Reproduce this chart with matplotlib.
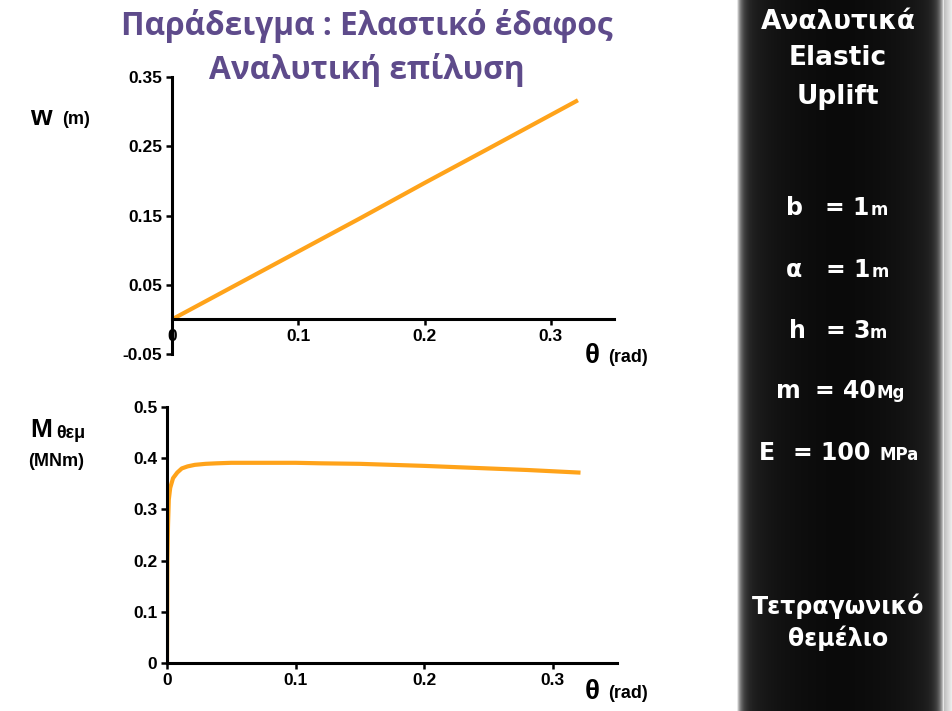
import numpy as np
import matplotlib
matplotlib.use("Agg")
import matplotlib.pyplot as plt
from matplotlib import font_manager

# Data
theta_w = [0.0, 0.05, 0.10, 0.15, 0.20, 0.25, 0.32]
w_vals = [0.0, 0.049, 0.098, 0.147, 0.197, 0.246, 0.315]

theta_m = [0.0, 0.0003, 0.0008, 0.0014, 0.0025, 0.0047, 0.008, 0.0115, 0.016,
           0.0216, 0.03, 0.0385, 0.05, 0.08, 0.10, 0.12, 0.15, 0.20, 0.25, 0.28, 0.32]
m_vals = [0.0, 0.20, 0.27, 0.319, 0.342, 0.361, 0.372, 0.380, 0.384,
          0.387, 0.389, 0.390, 0.391, 0.391, 0.391, 0.390, 0.389, 0.385, 0.380, 0.377, 0.372]

w_ticks = [-0.05, 0.05, 0.15, 0.25, 0.35]
m_ticks = [0, 0.1, 0.2, 0.3, 0.4, 0.5]
x_ticks = [0, 0.1, 0.2, 0.3]

title_1 = "Παράδειγμα : Ελαστικό έδαφος"
title_2 = "Αναλυτική επίλυση"
params = [("b", "= 1", "m", 208), ("α", "= 1", "m", 270), ("h", "= 3", "m", 331),
          ("m", "= 40", "Mg", 391), ("E", "= 100", "MPa", 453)]

orange = "#FFA31A"
purple = "#5E4B8B"
W, H = 953, 711

names = {f.name for f in font_manager.fontManager.ttflist}
print(sorted(n for n in names if 'Liberation' in n))
tick_fam = ['Liberation Sans Narrow'] if 'Liberation Sans Narrow' in names else ['Liberation Sans']

plt.rcParams['font.family'] = ['Liberation Sans', 'DejaVu Sans']
fig = plt.figure(figsize=(W / 100, H / 100), dpi=100)


def box(x0, y0, x1, y1):
    # pixel box (top-left origin) -> figure fraction rect
    return [x0 / W, 1 - y1 / H, (x1 - x0) / W, (y1 - y0) / H]


def style(ax):
    for s in ['top', 'right']:
        ax.spines[s].set_visible(False)
    for s in ['left', 'bottom']:
        ax.spines[s].set_linewidth(2.2)
    ax.tick_params(width=1.8, length=4, labelsize=12.5, pad=3)
    for lab in ax.get_xticklabels() + ax.get_yticklabels():
        lab.set_fontweight('bold')
        lab.set_family(tick_fam)


# top chart: w vs theta
ax1 = fig.add_axes(box(172, 77, 614, 354))
ax1.plot(theta_w, w_vals, color=orange, lw=3)
ax1.set_xlim(0, 0.35)
ax1.set_ylim(-0.05, 0.35)
ax1.set_yticks(w_ticks)
ax1.set_yticklabels([f"{t:.2f}" for t in w_ticks])
ax1.set_xticks(x_ticks)
ax1.set_xticklabels(["0", "0.1", "0.2", "0.3"])
ax1.spines['bottom'].set_position(('data', 0))
style(ax1)

# bottom chart: M vs theta
ax2 = fig.add_axes(box(167, 407, 617, 663))
ax2.plot(theta_m, m_vals, color=orange, lw=3)
ax2.set_xlim(0, 0.35)
ax2.set_ylim(0, 0.5)
ax2.set_yticks(m_ticks)
ax2.set_yticklabels(["0", "0.1", "0.2", "0.3", "0.4", "0.5"])
ax2.set_xticks(x_ticks)
ax2.set_xticklabels(["0", "0.1", "0.2", "0.3"])
style(ax2)


def ftxt(x, y, s, size, **kw):
    kw.setdefault('fontweight', 'bold')
    kw.setdefault('va', 'center')
    fig.text(x / W, 1 - y / H, s, fontsize=size, **kw)


# axis labels
ftxt(30, 118, "w", 20)
ftxt(62, 120, "(m)", 13)
ftxt(585, 356, "θ", 20)
ftxt(608, 358, "(rad)", 13)
ftxt(30, 430, "M", 19)
ftxt(56, 433, "θεμ", 13)
ftxt(28, 462, "(MNm)", 13)
ftxt(585, 692, "θ", 20)
ftxt(608, 694, "(rad)", 13)

# title
ftxt(367, 26, title_1, 22.8, ha='center', color=purple, family=['Open Sans', 'DejaVu Sans'])
ftxt(367, 70, title_2, 22.8, ha='center', color=purple, family=['Open Sans', 'DejaVu Sans'])

# right dark panel with grey edges
axp = fig.add_axes(box(737, 0, 953, 711))
xs = np.arange(216)
dist = np.minimum(xs, np.abs(xs - 206))
edge = 0.75 * np.exp(-dist / 4.0) + 0.12 * np.exp(-dist / 40.0)
prof = np.clip(0.03 + edge, 0, 1)
prof[207:] = np.linspace(0.75, 0.95, 9)
axp.imshow(np.tile(prof, (10, 1)), cmap='gray', vmin=0, vmax=1, aspect='auto', extent=[0, 1, 0, 1])
axp.set_axis_off()

pfam = ['DejaVu Sans']
for s, y in [("Αναλυτικά", 22), ("Elastic", 58), ("Uplift", 97)]:
    ftxt(838, y, s, 19, ha='center', color='white', family=pfam)
for s, y in [("Τετραγωνικό", 606), ("θεμέλιο", 638)]:
    ftxt(838, y, s, 17, ha='center', color='white', family=pfam)

# parameter lines: symbol, value, unit
sym_x = {"b": 786, "α": 786, "h": 789, "m": 776, "E": 759}
val_x = {"b": 825, "α": 826, "h": 826, "m": 815, "E": 793}
unit_x = {"b": 871, "α": 872, "h": 870, "m": 877, "E": 880}
for sym, val, unit, y in params:
    ftxt(sym_x[sym], y, sym, 17, color='white', family=pfam)
    ftxt(val_x[sym], y, val, 17, color='white', family=pfam)
    ftxt(unit_x[sym], y + 2, unit, 12, color='white', family=pfam)

fig.savefig("out.png", dpi=100)
